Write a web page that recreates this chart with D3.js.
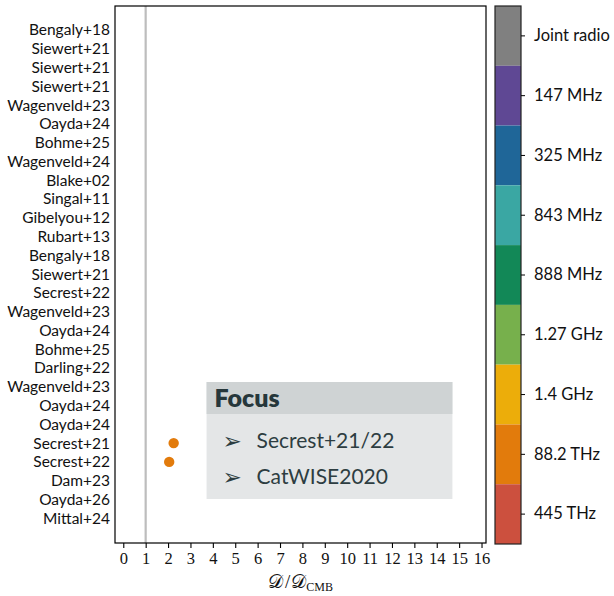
<!DOCTYPE html>
<html>
<head>
<meta charset="utf-8">
<script src="https://cdn.jsdelivr.net/npm/d3@7"></script>
<style>
  html, body { margin: 0; padding: 0; background: #fff; }
  svg { display: block; }
</style>
</head>
<body>
<svg id="chart" width="614" height="596"></svg>
<script>
// Study labels, top to bottom
const studies = [
  "Bengaly+18", "Siewert+21", "Siewert+21", "Siewert+21", "Wagenveld+23",
  "Oayda+24", "Bohme+25", "Wagenveld+24", "Blake+02", "Singal+11",
  "Gibelyou+12", "Rubart+13", "Bengaly+18", "Siewert+21", "Secrest+22",
  "Wagenveld+23", "Oayda+24", "Bohme+25", "Darling+22", "Wagenveld+23",
  "Oayda+24", "Oayda+24", "Secrest+21", "Secrest+22", "Dam+23",
  "Oayda+26", "Mittal+24"
];

// Highlighted measurements (row index, D/D_CMB, band)
const pointRows = [22, 23];
const pointValues = [2.25, 2.05];
const pointBands = ["88.2 THz", "88.2 THz"];

// Frequency bands for the colour bar, top to bottom
const bands = ["Joint radio", "147 MHz", "325 MHz", "843 MHz", "888 MHz",
               "1.27 GHz", "1.4 GHz", "88.2 THz", "445 THz"];
const bandColors = ["#808080", "#5f4894", "#1f6698", "#3aa7a3", "#128857",
                    "#77b04c", "#ecad0a", "#e27b0c", "#cc503e"];

const xTicks = d3.range(0, 17);
const focusItems = ["Secrest+21/22", "CatWISE2020"];

const svg = d3.select("#chart");
const plot = { left: 115, right: 486, top: 6, bottom: 543 };
const sans = "Lato, 'Open Sans', sans-serif";
const serif = "'Liberation Serif', 'DejaVu Serif', serif";

const x = d3.scaleLinear().domain([-0.37, 16.2]).range([plot.left, plot.right]);
const y = d3.scaleLinear().domain([-1.28, studies.length - 1 + 1.32]).range([plot.top, plot.bottom]);
const color = d3.scaleOrdinal().domain(bands).range(bandColors);

// Reference line at D = D_CMB
svg.append("line")
  .attr("x1", x(1)).attr("x2", x(1))
  .attr("y1", plot.top).attr("y2", plot.bottom)
  .attr("stroke", "#bdbdbd").attr("stroke-width", 2.2);

// Study labels
svg.append("g").selectAll("text")
  .data(studies)
  .join("text")
  .attr("x", plot.left - 5)
  .attr("y", (d, i) => y(i))
  .attr("dy", "0.35em")
  .attr("text-anchor", "end")
  .attr("font-family", sans)
  .attr("font-size", 15.5)
  .attr("fill", "#111")
  .text(d => d);

// Points
svg.append("g").selectAll("circle")
  .data(pointRows.map((r, i) => ({ row: r, v: pointValues[i], band: pointBands[i] })))
  .join("circle")
  .attr("cx", d => x(d.v))
  .attr("cy", d => y(d.row))
  .attr("r", 5.2)
  .attr("fill", d => color(d.band));

// Focus box
const fx0 = x(3.72), fx1 = x(14.7);
const fy0 = 382, fyH = 414, fy1 = 499;
const focus = svg.append("g");
focus.append("rect").attr("x", fx0).attr("y", fy0).attr("width", fx1 - fx0).attr("height", fy1 - fy0)
  .attr("fill", "#e4e6e7");
focus.append("rect").attr("x", fx0).attr("y", fy0).attr("width", fx1 - fx0).attr("height", fyH - fy0)
  .attr("fill", "#cfd3d4");
focus.append("text")
  .attr("x", fx0 + 8).attr("y", fy0 + 25)
  .attr("font-family", sans).attr("font-weight", 800).attr("font-size", 25)
  .attr("fill", "#26373b").text("Focus");
focusItems.forEach((t, i) => {
  const ty = 441 + i * 36;
  focus.append("text")
    .attr("x", fx0 + 16).attr("y", ty).attr("dy", "0.35em")
    .attr("font-family", "'DejaVu Sans', sans-serif").attr("font-size", 23)
    .attr("fill", "#2d3d41").text("\u27A2");
  focus.append("text")
    .attr("x", fx0 + 50).attr("y", ty).attr("dy", "0.35em")
    .attr("font-family", sans).attr("font-size", 21)
    .attr("fill", "#2d3d41").text(t);
});

// Frame
svg.append("rect")
  .attr("x", plot.left).attr("y", plot.top)
  .attr("width", plot.right - plot.left).attr("height", plot.bottom - plot.top)
  .attr("fill", "none").attr("stroke", "#000").attr("stroke-width", 1.2);

// Bottom axis
const xAxis = svg.append("g")
  .attr("transform", `translate(0,${plot.bottom})`)
  .call(d3.axisBottom(x).tickValues(xTicks).tickSize(5).tickPadding(4).tickFormat(d3.format("d")));
xAxis.select(".domain").remove();
xAxis.selectAll("line").attr("stroke", "#000").attr("stroke-width", 1.1);
xAxis.selectAll("text")
  .attr("font-family", serif)
  .attr("font-size", 16.5).attr("fill", "#111");

// Axis title: D / D_CMB
const xt = svg.append("text")
  .attr("x", (plot.left + plot.right) / 2).attr("y", 588)
  .attr("text-anchor", "middle")
  .attr("font-family", serif)
  .attr("font-size", 19).attr("fill", "#111");
xt.append("tspan").text("\uD835\uDC9F");
xt.append("tspan").attr("dx", 2).text("/");
xt.append("tspan").attr("dx", 1).text("\uD835\uDC9F");
xt.append("tspan").attr("font-size", 12).attr("dy", 3).text("CMB");

// Colour bar
const cb = { left: 495, right: 521 };
const yb = d3.scaleBand().domain(bands).range([plot.top, plot.bottom + 1]);
const cbG = svg.append("g");
cbG.selectAll("rect.seg")
  .data(bands)
  .join("rect")
  .attr("class", "seg")
  .attr("x", cb.left).attr("y", d => yb(d))
  .attr("width", cb.right - cb.left).attr("height", yb.bandwidth())
  .attr("fill", d => color(d));
cbG.append("rect")
  .attr("x", cb.left).attr("y", plot.top)
  .attr("width", cb.right - cb.left).attr("height", plot.bottom + 1 - plot.top)
  .attr("fill", "none").attr("stroke", "#222").attr("stroke-width", 1.2);
const cbAxis = svg.append("g")
  .attr("transform", `translate(${cb.right},0)`)
  .call(d3.axisRight(yb).tickSize(4).tickPadding(9));
cbAxis.select(".domain").remove();
cbAxis.selectAll("line").attr("stroke", "#000");
cbAxis.selectAll("text")
  .attr("font-family", sans).attr("font-size", 16.5).attr("fill", "#111");
</script>
</body>
</html>
